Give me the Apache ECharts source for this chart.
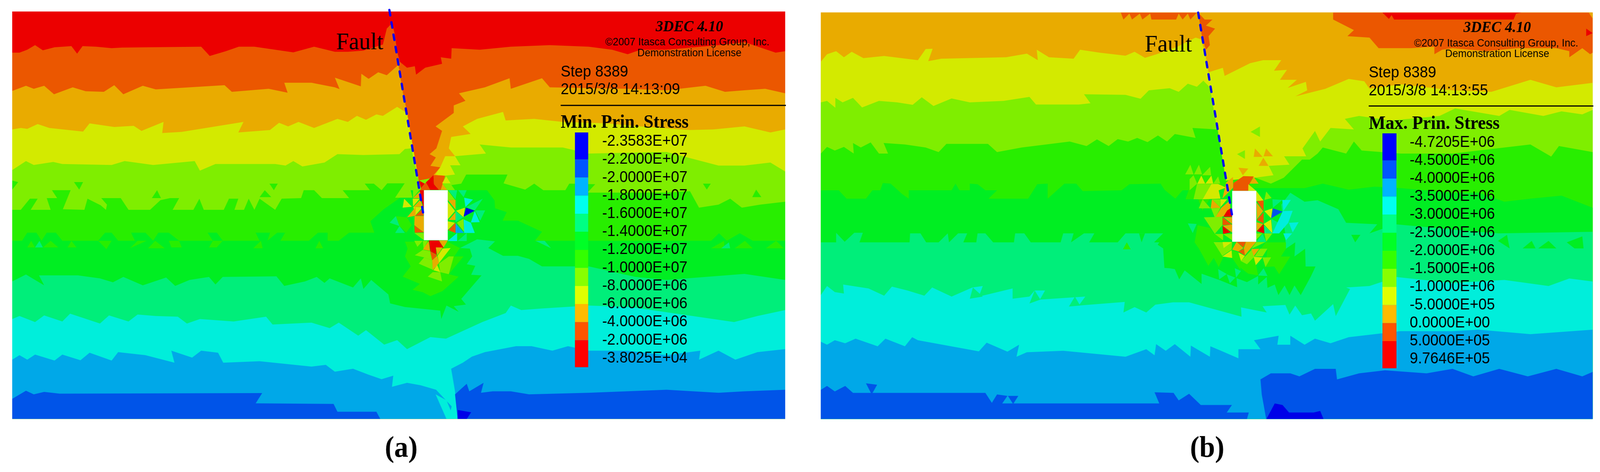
<!DOCTYPE html>
<html>
<head>
<meta charset="utf-8">
<title>Principal stress contours</title>
<script src="https://cdn.jsdelivr.net/npm/echarts@6/dist/echarts.min.js"></script>
<style>
  html, body { margin: 0; background: #fff; overflow: hidden; }
  #main { width: 4324px; height: 1208px; transform-origin: 0 0; }
</style>
</head>
<body>
<div id="main"></div>
<script>
// contour fill colours, index = band number, top of the model to the bottom
const bandColors = ['#ec0000', '#eb5700', '#e9ab00', '#d3ea00', '#7fee00', '#28ee00', '#00ee22', '#00ee7a', '#00eedb', '#00a8e8', '#0054e8', '#0000e8'];
const legendColors = ['#0000ff', '#0055ff', '#00b4ff', '#00ffee', '#00ff84', '#00ff26', '#33ff00', '#88ff00', '#e0ff00', '#ffbb00', '#ff5500', '#ff0000'];

const minLabels = ['-2.3583E+07', '-2.2000E+07', '-2.0000E+07', '-1.8000E+07', '-1.6000E+07', '-1.4000E+07', '-1.2000E+07', '-1.0000E+07', '-8.0000E+06', '-6.0000E+06', '-4.0000E+06', '-2.0000E+06', '-3.8025E+04'];
const maxLabels = ['-4.7205E+06', '-4.5000E+06', '-4.0000E+06', '-3.5000E+06', '-3.0000E+06', '-2.5000E+06', '-2.0000E+06', '-1.5000E+06', '-1.0000E+06', '-5.0000E+05', '0.0000E+00', '5.0000E+05', '9.7646E+05'];

// contour lines of the minimum principal stress, each one is the top edge of a band
const minBandLevels = [0, 1, 2, 3, 4, 5, 6, 7, 8, 9, 10];
const minContours = [
  [[47,38],[3025,38]],
  [[47,175],[75,175],[105,165],[135,150],[165,167],[210,157],[275,153],[297,178],[318,153],[370,155],[430,160],[470,158],[775,155],[808,186],[870,170],[920,155],[980,155],[1060,165],[1130,174],[1210,155],[1290,172],[1340,172],[1400,168],[1475,148],[1490,95],[1510,78],[1520,110],[1530,170],[1540,205],[1568,225],[1598,220],[1603,248],[1638,225],[1703,212],[1698,190],[1738,195],[1740,160],[1848,165],[1968,155],[2118,150],[2268,155],[2358,165],[2418,180],[2468,165],[2568,165],[2768,150],[2868,140],[2988,175],[3025,170]],
  [[47,302],[100,285],[130,295],[170,285],[208,313],[280,290],[330,303],[400,305],[440,283],[475,313],[550,285],[600,297],[865,283],[893,305],[1035,295],[1108,308],[1095,275],[1200,275],[1290,290],[1308,296],[1290,258],[1390,287],[1392,245],[1420,262],[1457,240],[1490,250],[1535,215],[1550,300],[1568,372],[1613,600],[1698,631],[1703,609],[1715,584],[1670,582],[1696,556],[1658,551],[1679,523],[1655,512],[1681,493],[1703,435],[1678,420],[1748,375],[1748,350],[1793,335],[1768,310],[1868,290],[1963,260],[1968,295],[2088,260],[2118,290],[2418,295],[2568,300],[2718,285],[2793,305],[2868,300],[2948,295],[3025,310]],
  [[47,430],[80,425],[105,428],[145,412],[190,425],[320,437],[345,410],[440,422],[515,418],[545,435],[630,405],[625,442],[700,438],[938,405],[918,440],[1040,432],[1075,408],[1110,420],[1150,405],[1210,425],[1300,395],[1340,405],[1375,385],[1410,398],[1450,380],[1475,385],[1530,355],[1568,375],[1613,600],[1715,584],[1677,580],[1696,556],[1715,519],[1753,519],[1729,493],[1738,455],[1813,445],[1783,420],[1838,395],[1938,372],[1948,400],[2058,395],[2168,405],[2338,410],[2468,420],[2658,432],[2748,430],[2868,420],[2968,440],[3025,430]],
  [[47,565],[100,535],[130,548],[205,538],[240,545],[430,548],[480,535],[590,548],[750,535],[770,567],[830,545],[1060,545],[1100,550],[1130,535],[1165,553],[1250,540],[1300,512],[1400,515],[1539,512],[1560,495],[1584,493],[1613,600],[1700,585],[1753,580],[1734,549],[1774,549],[1753,519],[1872,510],[1848,480],[1968,490],[2068,490],[2168,490],[2268,510],[2568,505],[2768,550],[2868,550],[2968,540],[3025,570]],
  [[47,697],[80,697],[115,660],[145,660],[118,697],[195,697],[180,658],[220,658],[200,632],[272,632],[242,695],[325,697],[337,660],[388,682],[408,697],[412,680],[390,658],[465,658],[495,697],[578,697],[618,665],[655,658],[690,658],[665,697],[745,697],[768,660],[785,697],[862,697],[882,660],[918,660],[903,697],[940,697],[958,660],[980,697],[1000,660],[1060,697],[1085,660],[1160,658],[1170,632],[1210,632],[1240,658],[1345,658],[1320,632],[1425,632],[1405,610],[1440,610],[1470,632],[1492,609],[1558,609],[1600,640],[1700,620],[1777,610],[1796,580],[1955,580],[1940,609],[2023,630],[2058,610],[2093,632],[2178,632],[2193,610],[2293,612],[2263,640],[2408,640],[2568,640],[2658,635],[2693,690],[2768,680],[2813,660],[2858,690],[2928,680],[3025,670]],
  [[47,800],[85,800],[105,773],[140,773],[160,800],[180,773],[215,773],[240,800],[378,800],[405,773],[430,773],[455,800],[520,800],[505,773],[560,773],[590,800],[610,773],[650,773],[690,800],[820,800],[800,773],[835,773],[858,800],[1000,800],[985,773],[1040,773],[1030,800],[1068,773],[1098,773],[1080,800],[1190,800],[1225,773],[1262,773],[1262,800],[1305,800],[1345,773],[1442,773],[1427,735],[1477,696],[1582,632],[1800,632],[1876,632],[1905,666],[1907,692],[1952,705],[1936,733],[1995,733],[2088,770],[2060,800],[2740,800],[2770,775],[2800,800],[2850,775],[2900,800],[3025,800]],
  [[47,935],[100,912],[125,925],[170,948],[150,915],[300,915],[385,925],[435,938],[475,920],[550,948],[640,922],[675,950],[730,930],[805,920],[830,945],[858,920],[1065,918],[1095,950],[1175,935],[1220,920],[1250,940],[1270,925],[1360,955],[1390,925],[1400,960],[1430,930],[1496,978],[1503,1008],[1560,1020],[1696,1032],[1700,1060],[1720,1015],[1767,1036],[1748,1017],[1795,1012],[1777,993],[1855,915],[1815,913],[1831,883],[1798,878],[1819,852],[1810,826],[1772,824],[1838,795],[1907,802],[1881,824],[1938,850],[1995,850],[2038,860],[2088,885],[2268,885],[2448,920],[2568,930],[2718,920],[2868,910],[3025,930]],
  [[47,1060],[75,1050],[135,1070],[170,1048],[240,1068],[270,1042],[385,1075],[420,1048],[495,1068],[530,1045],[600,1050],[685,1052],[720,1075],[770,1060],[900,1068],[1025,1052],[1050,1078],[1200,1072],[1270,1090],[1305,1072],[1380,1115],[1410,1097],[1480,1145],[1530,1130],[1568,1160],[1658,1120],[1718,1125],[1858,1070],[1948,1040],[1968,1015],[2008,1030],[2088,1025],[2268,1015],[2428,1020],[2668,1050],[2828,1070],[2918,1050],[3025,1030]],
  [[47,1195],[75,1180],[105,1195],[135,1178],[210,1198],[240,1178],[310,1197],[345,1172],[430,1198],[455,1170],[560,1180],[672,1205],[660,1165],[740,1188],[775,1165],[840,1172],[860,1205],[1000,1200],[1200,1218],[1255,1212],[1290,1235],[1360,1225],[1420,1245],[1470,1260],[1515,1248],[1510,1285],[1568,1272],[1620,1280],[1680,1295],[1740,1350],[1728,1392],[1763,1392],[1753,1300],[1738,1225],[1783,1205],[1818,1185],[1868,1170],[1988,1150],[2048,1150],[2128,1165],[2188,1150],[2268,1165],[2418,1165],[2568,1180],[2698,1165],[2693,1195],[2768,1165],[2833,1195],[2918,1170],[3025,1160]],
  [[47,1325],[100,1298],[130,1310],[170,1302],[230,1308],[1010,1306],[985,1340],[1285,1342],[1300,1368],[1450,1368],[1465,1392],[1763,1392],[1753,1310],[1798,1275],[1808,1300],[1863,1272],[1853,1305],[1898,1300],[1968,1300],[2038,1310],[2268,1305],[2568,1295],[2768,1305],[2868,1300],[3025,1295]]
];

// single mesh elements and small patches, [band, outline]
const minPatches = [
  [5,[[47,600],[70,605],[47,630]]],[5,[[285,605],[320,605],[305,630]]],[5,[[1038,610],[1070,610],[1055,632]]],[5,[[585,658],[605,632],[620,658]]],[5,[[1000,655],[1020,632],[1045,655]]],
  [5,[[2898,655],[2913,630],[2933,655]]],[5,[[2708,610],[2738,610],[2723,630]]],
  [5,[[105,822],[120,800],[135,822]]],[7,[[135,822],[152,800],[165,822]]],[5,[[165,822],[195,800],[225,822]]],[5,[[260,822],[275,800],[295,822]]],[5,[[378,800],[430,800],[410,828]]],[5,[[500,825],[530,800],[565,800]]],[5,[[570,825],[598,800],[635,825]]],[5,[[650,800],[690,800],[700,822],[660,822]]],[5,[[805,822],[820,800],[858,800],[835,822]]],[5,[[975,825],[1005,800],[1012,825]]],[5,[[1215,825],[1230,800],[1245,825]]],
  [5,[[2738,825],[2790,800],[2790,825]]],[5,[[2830,825],[2870,800],[2900,825]]],[5,[[2950,825],[2990,800],[3020,825]]],[7,[[2063,800],[2098,800],[2123,825]]],[7,[[2778,825],[2808,805],[2813,825]]],
  [1,[[1490,95],[1510,78],[1518,110]]],
  // halo under the opening
  [5,[[1560,803],[1724,803],[1772,824],[1750,852],[1786,852],[1729,911],[1767,919],[1705,967],[1658,984],[1629,971],[1589,963],[1617,943],[1551,919],[1582,885],[1560,852],[1570,826]]],
  [5,[[1525,718],[1568,722],[1586,748],[1565,773],[1539,751]]],
  [4,[[1522,657],[1558,610],[1613,610],[1615,632],[1582,632],[1589,657]]],
  [7,[[1501,740],[1525,718],[1539,751]]],[7,[[1522,774],[1539,751],[1560,774]]],
  [0,[[1613,599],[1636,610],[1622,625]]],[0,[[1641,606],[1670,582],[1672,612],[1691,631],[1657,631]]],[1,[[1670,582],[1715,584],[1698,631],[1691,631],[1672,612]]],[1,[[1622,625],[1641,606],[1657,631],[1620,632]]],[2,[[1698,631],[1705,611],[1723,631]]],[3,[[1703,609],[1719,586],[1736,609]]],
  [4,[[1705,611],[1736,611],[1753,632],[1723,632]]],
  [4,[[1591,632],[1615,632],[1591,658]]],[2,[[1591,658],[1617,636],[1622,658]]],[3,[[1590,660],[1617,660],[1591,686]]],[2,[[1592,688],[1619,664],[1629,687]]],[3,[[1592,688],[1628,688],[1601,715]]],[1,[[1600,717],[1627,694],[1633,717]]],[2,[[1568,722],[1601,688],[1601,717]]],[2,[[1597,718],[1633,718],[1633,772],[1596,748]]],[1,[[1596,749],[1633,772],[1598,773]]],[3,[[1551,690],[1557,660],[1587,687]]],[4,[[1596,774],[1633,774],[1633,798]]],
  [0,[[1617,632],[1633,632],[1633,694],[1625,670]]],
  [4,[[1725,632],[1753,664],[1725,664]]],[7,[[1727,632],[1761,632],[1755,662]]],[7,[[1765,632],[1798,632],[1786,655]]],[8,[[1788,657],[1822,663],[1793,688]]],[7,[[1796,688],[1860,660],[1829,699]]],[2,[[1725,664],[1755,664],[1755,696]]],[3,[[1725,670],[1753,701],[1725,729]]],[2,[[1755,705],[1755,731],[1729,731]]],[3,[[1725,735],[1753,740],[1725,764]]],[1,[[1727,765],[1755,740],[1755,774]]],[9,[[1755,742],[1788,774],[1755,774]]],[3,[[1757,700],[1791,690],[1786,722]]],[7,[[1755,701],[1784,722],[1755,738]]],[8,[[1786,729],[1814,740],[1829,774],[1788,774]]],[4,[[1760,740],[1785,727],[1788,770]]],[8,[[1829,701],[1848,738],[1814,739]]],[7,[[1831,699],[1869,699],[1850,733]]],[11,[[1795,690],[1829,700],[1786,720]]],[8,[[1724,801],[1761,774],[1761,801]]],[7,[[1763,801],[1798,774],[1798,801]]],
  [4,[[1598,848],[1629,830],[1658,835],[1665,865],[1634,855]]],[4,[[1613,876],[1634,855],[1665,865],[1667,896]]],[4,[[1691,876],[1729,852],[1748,852],[1729,911],[1696,904]]],[4,[[1648,919],[1667,904],[1696,904],[1703,935]]],[4,[[1596,800],[1629,800],[1608,820]]],[4,[[1629,800],[1648,800],[1632,829]]],
  [0,[[1652,799],[1691,799],[1709,824],[1679,822],[1682,846],[1658,835]]],[2,[[1691,799],[1725,799],[1709,822]]],[2,[[1629,829],[1651,801],[1656,833]]],[2,[[1679,822],[1705,822],[1685,848]]],[1,[[1657,835],[1684,848],[1665,865]]],[2,[[1665,865],[1684,850],[1691,874],[1667,898]]],[3,[[1686,850],[1705,826],[1736,824],[1691,874]]],[3,[[1670,898],[1684,880],[1696,904]]],
  [8,[[1678,1310],[1720,1330],[1750,1392],[1720,1392]]],[11,[[1763,1362],[1815,1370],[1798,1392],[1763,1392]]]
];

// same again for the maximum principal stress, the model top sits in band 2
const maxBandLevels = [2, 3, 4, 5, 6, 7, 8, 9, 10];
const maxContours = [
  [[26,41],[3000,41]],
  [[26,205],[50,180],[85,170],[115,190],[145,172],[190,193],[270,186],[400,200],[430,163],[457,162],[440,203],[490,195],[740,190],[820,178],[862,200],[858,165],[905,190],[1000,195],[1025,165],[1100,175],[1200,185],[1235,172],[1275,192],[1320,180],[1400,155],[1470,125],[1490,130],[1505,170],[1520,240],[1575,225],[1582,252],[1680,210],[1730,200],[1800,200],[1772,235],[1822,232],[1795,265],[1860,265],[1825,292],[1895,272],[1900,300],[1855,320],[1970,295],[2060,262],[2120,270],[2140,295],[2260,280],[2460,300],[2610,305],[2760,265],[2860,290],[3000,275]],
  [[26,340],[50,335],[82,358],[82,325],[110,340],[150,325],[185,357],[250,335],[320,340],[380,348],[415,323],[460,352],[530,327],[600,340],[730,335],[830,322],[855,347],[1020,347],[1065,343],[1040,313],[1200,315],[1258,328],[1290,300],[1370,293],[1405,305],[1440,278],[1475,288],[1500,268],[1525,290],[1587,600],[1700,590],[1770,582],[1752,551],[1832,547],[1811,519],[1896,519],[1882,493],[1930,435],[1950,470],[1990,425],[2080,430],[2045,395],[2100,385],[2220,400],[2290,395],[2410,385],[2470,360],[2640,385],[2680,365],[2810,385],[2880,370],[2960,380],[3000,365]],
  [[26,510],[50,488],[80,500],[115,488],[153,510],[150,475],[180,490],[218,473],[250,510],[285,510],[268,475],[350,480],[430,490],[480,505],[510,478],[670,478],[705,505],[800,490],[985,470],[1050,485],[1090,463],[1135,485],[1170,462],[1210,470],[1245,458],[1285,472],[1325,450],[1360,470],[1390,445],[1470,458],[1458,425],[1555,430],[1587,600],[1700,590],[1760,610],[1810,590],[1880,530],[1910,530],[1940,510],[1960,490],[2050,510],[2080,470],[2110,500],[2260,510],[2460,510],[2660,490],[2760,480],[2840,520],[2870,485],[3000,505]],
  [[26,632],[95,632],[125,660],[200,660],[225,632],[255,632],[265,608],[295,610],[340,645],[365,660],[365,632],[530,632],[545,610],[560,632],[600,632],[600,610],[630,612],[660,632],[705,632],[672,660],[825,660],[860,612],[900,610],[900,660],[965,610],[1010,610],[1060,660],[1030,635],[1185,632],[1215,612],[1335,610],[1350,630],[1392,660],[1420,632],[1443,632],[1431,662],[1480,662],[1496,700],[1540,640],[1600,620],[1700,625],[1810,625],[1890,625],[1960,610],[2060,630],[2160,620],[2260,625],[2460,640],[2560,640],[2660,670],[2760,660],[2880,650],[3000,690]],
  [[26,805],[85,805],[85,773],[118,803],[155,773],[188,773],[175,805],[368,805],[370,775],[410,775],[432,805],[480,805],[515,775],[520,805],[555,775],[590,775],[575,805],[625,805],[630,775],[660,775],[690,805],[770,805],[775,775],[810,775],[835,805],[950,805],[960,775],[1000,775],[990,805],[1040,775],[1080,775],[1060,805],[1170,805],[1200,775],[1345,775],[1310,805],[1345,825],[1350,890],[1369,891],[1390,894],[1407,928],[1428,898],[1493,943],[1493,909],[1561,930],[1630,954],[1628,924],[1668,937],[1711,917],[1711,945],[1744,920],[1747,956],[1775,945],[1789,980],[1813,948],[1832,980],[1851,948],[1875,980],[1915,917],[1932,885],[1894,885],[1892,826],[1851,852],[1854,805],[1818,826],[1815,774],[1800,680],[1835,640],[1890,670],[1940,665],[2020,695],[2050,740],[2170,745],[2140,775],[2240,745],[2560,770],[2640,775],[3000,770]],
  [[26,980],[50,950],[80,970],[115,975],[112,945],[210,958],[270,982],[300,952],[360,965],[425,982],[455,955],[530,985],[610,955],[650,950],[635,985],[765,958],[765,992],[830,985],[850,965],[890,965],[870,995],[1045,985],[1020,1015],[1197,1003],[1192,1038],[1235,1020],[1280,1038],[1315,1012],[1383,1004],[1445,1004],[1647,1052],[1645,1021],[1744,1038],[1728,1017],[1816,1013],[1832,1045],[1854,1015],[1880,1047],[1915,1041],[1930,1065],[2000,1010],[2010,1050],[2065,960],[2050,955],[2140,950],[2244,920],[2460,940],[2660,930],[2830,950],[2910,925],[3000,935]],
  [[26,1135],[50,1145],[80,1130],[120,1140],[160,1125],[245,1150],[275,1125],[350,1150],[378,1120],[400,1130],[635,1167],[665,1138],[745,1168],[790,1145],[780,1185],[820,1170],[960,1165],[1200,1185],[1280,1160],[1312,1180],[1318,1143],[1355,1165],[1390,1143],[1450,1185],[1452,1148],[1525,1185],[1527,1150],[1568,1165],[1635,1190],[1635,1160],[1720,1160],[1695,1130],[1790,1115],[1785,1145],[1835,1145],[1835,1115],[1890,1145],[1930,1125],[1990,1140],[2060,1120],[2160,1110],[2260,1100],[2460,1100],[2560,1095],[2760,1110],[3000,1095]],
  [[26,1295],[50,1282],[80,1300],[120,1282],[150,1305],[660,1305],[685,1338],[705,1310],[745,1315],[725,1340],[1330,1340],[1312,1303],[1385,1305],[1405,1330],[1445,1308],[1490,1345],[1610,1345],[1590,1370],[1675,1370],[1668,1392],[1742,1392],[1725,1310],[1720,1260],[1760,1240],[1835,1240],[1870,1250],[1930,1225],[2010,1225],[2015,1260],[2100,1240],[2200,1230],[2360,1240],[2460,1225],[2540,1250],[2640,1225],[2750,1250],[2860,1225],[2960,1250],[3000,1235]]
];

const maxPatches = [
  [1,[[1182,42],[1192,65],[1215,45],[1225,65],[1255,45],[1265,65],[1295,45],[1300,65],[1395,65],[1405,45],[1420,65],[1440,45],[1450,65],[1475,42]]],
  [1,[[1480,42],[1505,65],[1535,65],[1510,85],[1545,95],[1520,120],[1525,150],[1510,165],[1495,125]]],
  [1,[[2000,42],[2000,65],[2080,100],[2055,120],[2140,125],[2175,160],[2300,160],[2390,155],[2390,180],[2420,165],[2460,160],[2590,170],[2710,160],[2860,160],[2910,170],[2910,190],[2960,160],[2990,180],[3000,175],[3000,42]]],
  [0,[[2190,42],[2215,63],[2225,50],[2235,65],[2695,65],[2705,45],[2725,42]]],
  [0,[[2975,120],[3000,110],[2975,95]]],
  [2,[[2985,42],[3000,42],[3000,62]]],
  [10,[[200,1273],[243,1278],[222,1310]]],[10,[[747,1315],[787,1315],[767,1342]]],
  [7,[[600,992],[612,955],[650,985]]],[7,[[830,1008],[850,965],[872,995]]],[7,[[982,1018],[1005,985],[1025,1015]]],
  [6,[[2635,800],[2670,780],[2680,825]]],[6,[[2730,825],[2765,800],[2780,825]]],[6,[[2790,825],[2830,800],[2860,825]]],[6,[[2900,805],[2960,785],[2965,825],[2930,825]]],
  [7,[[2060,825],[2080,805],[2100,825]]],[6,[[2070,780],[2105,780],[2085,805]]],[7,[[2090,950],[2120,925],[2140,950]]],
  [5,[[1190,828],[1205,805],[1220,828]]],[6,[[1252,775],[1275,775],[1262,805]]],[7,[[1300,805],[1330,805],[1315,825]]],
  [7,[[1440,742],[1474,744],[1459,774]]],
  // mesh around the opening
  [5,[[1466,805],[1478,748],[1526,757],[1542,777],[1573,779],[1573,800],[1538,803],[1578,852],[1559,887],[1540,857],[1519,883],[1483,826]]],
  [5,[[1611,831],[1635,839],[1645,867],[1668,878],[1697,852],[1704,883],[1711,915],[1673,909],[1642,889],[1645,900],[1611,857]]],
  [5,[[1740,805],[1818,805],[1818,826],[1799,852],[1835,852],[1792,911],[1773,885],[1737,887],[1747,826],[1721,826]]],
  [7,[[1557,894],[1590,910],[1561,928]]],[7,[[1590,911],[1623,922],[1602,941]]],[7,[[1621,891],[1645,900],[1626,922]]],[7,[[1711,915],[1732,891],[1747,917]]],
  [4,[[1430,579],[1450,547],[1462,579]]],[4,[[1464,579],[1483,547],[1495,579]]],[4,[[1495,582],[1526,554],[1530,582]]],[4,[[1447,632],[1447,595],[1462,582],[1476,610]]],
  [4,[[1462,662],[1476,610],[1531,611],[1497,662]]],[3,[[1497,662],[1531,611],[1557,611],[1587,623],[1559,632],[1566,660]]],[3,[[1477,610],[1492,583],[1507,610]]],[3,[[1508,610],[1531,583],[1538,610]]],[4,[[1538,610],[1557,586],[1565,610]]],
  [4,[[1482,692],[1497,662],[1528,692]]],[4,[[1533,662],[1566,662],[1566,690]]],[2,[[1528,692],[1533,662],[1566,690]]],[3,[[1566,662],[1592,662],[1566,688]]],
  [2,[[1588,606],[1614,588],[1615,623],[1573,660]]],[1,[[1614,634],[1616,608],[1654,585],[1694,586],[1678,610],[1673,634]]],[2,[[1678,610],[1694,588],[1713,610]]],[3,[[1673,612],[1704,634],[1673,634]]],
  [2,[[1542,727],[1569,690],[1602,666],[1604,691],[1578,718]]],[0,[[1577,720],[1592,699],[1606,691],[1611,720]]],[4,[[1530,692],[1566,690],[1545,725]]],[4,[[1502,722],[1573,720],[1573,748],[1544,777]]],
  [2,[[1578,722],[1611,722],[1611,744]]],[1,[[1574,722],[1609,746],[1574,748]]],[2,[[1574,750],[1611,746],[1611,772]]],[0,[[1574,750],[1606,772],[1576,777]]],[4,[[1544,777],[1576,777],[1576,798]]],[4,[[1576,777],[1611,777],[1611,798]]],
  [4,[[1539,804],[1611,804],[1609,829],[1573,850]]],[3,[[1574,804],[1610,804],[1578,824]]],[3,[[1573,852],[1609,831],[1611,857]]],
  [2,[[1611,829],[1628,803],[1654,824],[1635,835]]],[1,[[1629,803],[1664,803],[1654,822]]],[1,[[1635,835],[1656,826],[1660,849]]],[2,[[1664,803],[1704,803],[1660,848],[1656,824]]],[3,[[1635,839],[1660,850],[1645,867]]],[4,[[1644,867],[1687,829],[1697,852],[1668,878]]],
  [2,[[1685,827],[1716,826],[1694,851]]],[4,[[1697,852],[1718,826],[1747,826],[1728,852]]],[4,[[1685,826],[1740,804],[1704,804]]],[3,[[1694,853],[1728,855],[1702,881]]],[4,[[1728,855],[1761,855],[1739,887]]],
  [7,[[1704,803],[1728,777],[1742,804]]],[4,[[1704,796],[1728,775],[1704,775]]],[4,[[1735,775],[1766,775],[1742,803]]],
  [6,[[1732,666],[1768,662],[1768,692],[1735,701]]],[4,[[1735,664],[1742,636],[1763,658]]],
  [3,[[1704,634],[1732,666],[1704,668]]],[1,[[1706,668],[1732,666],[1732,701]]],[2,[[1705,673],[1730,701],[1706,729]]],[1,[[1706,731],[1732,705],[1732,742]]],[2,[[1705,738],[1730,744],[1705,768]]],[0,[[1706,768],[1732,744],[1735,775]]],
  [3,[[1735,701],[1766,692],[1761,725]]],[3,[[1732,744],[1761,729],[1766,775]]],[7,[[1735,749],[1766,775],[1735,775]]],[7,[[1763,727],[1794,742],[1766,775]]],
  [10,[[1768,692],[1806,703],[1761,725]]],[7,[[1766,662],[1804,664],[1768,690]]],[8,[[1804,664],[1837,664],[1808,701]]],[8,[[1806,701],[1844,700],[1827,740],[1792,775],[1766,775]]],[8,[[1830,740],[1867,738],[1844,772]]],[8,[[1808,775],[1842,775],[1818,798]]],
  [2,[[1694,521],[1699,493],[1728,521]]],[2,[[1732,519],[1742,493],[1768,519]]],[2,[[1713,551],[1731,524],[1751,551]]],[2,[[1635,557],[1673,560],[1652,582]]],[4,[[1630,512],[1660,499],[1660,528]]],[4,[[1682,438],[1718,420],[1718,455]]],
  [11,[[1743,1392],[1775,1340],[1805,1345],[1830,1370],[1925,1370],[1950,1365],[1963,1392]]]
];

const minFault = [[1500,33],[1631,712]];
const maxFault = [[1480,42],[1610,712]];

// layout of the two panels, all in the axis units of each panel
const panels = [
  {
    grid: { left: 33, top: 29.3, width: 2089, height: 1043 },
    x: [47, 3025], y: [38, 1392], hole: [1633, 632, 1725, 798],
    levels: minBandLevels, contours: minContours, patches: minPatches, fault: minFault, labels: minLabels,
    title: 'Min. Prin. Stress', step: 'Step 8389', time: '2015/3/8 14:13:09',
    textX: 2160, ruleY: 350, ruleEnd: 3033, logoX: 2656, copyX: 2648,
    barX: 2215, barW: 51, labelX: 2320, faultX: 1386, faultY: 143, dy: 0
  },
  {
    grid: { left: 2218.2, top: 31.6, width: 2086, height: 1041 },
    x: [26, 3000], y: [41, 1392], hole: [1611, 634, 1704, 803],
    levels: maxBandLevels, contours: maxContours, patches: maxPatches, fault: maxFault, labels: maxLabels,
    title: 'Max. Prin. Stress', step: 'Step 8389', time: '2015/3/8 14:13:55',
    textX: 2137, ruleY: 352, ruleEnd: 3006, logoX: 2632, copyX: 2628,
    barX: 2190, barW: 54, labelX: 2295, faultX: 1365, faultY: 150, dy: 3
  }
];

function fillSeries(p, i) {
  const edge = (line) => line.concat([[p.x[1], p.y[1]], [p.x[0], p.y[1]]]);
  const shapes = p.contours.map((c, k) => ({ color: bandColors[p.levels[k]], pts: edge(c) }))
    .concat(p.patches.map(q => ({ color: bandColors[q[0]], pts: q[1] })));
  shapes.push({
    color: '#ffffff',
    pts: [[p.hole[0], p.hole[1]], [p.hole[2], p.hole[1]], [p.hole[2], p.hole[3]], [p.hole[0], p.hole[3]]]
  });
  return {
    type: 'custom', xAxisIndex: i, yAxisIndex: i, silent: true, clip: true, z: 1,
    data: shapes.map((s, k) => [s.pts[0][0], s.pts[0][1], k]),
    renderItem: (params, api) => {
      const s = shapes[api.value(2)];
      return {
        type: 'polygon',
        shape: { points: s.pts.map(v => api.coord(v)) },
        style: { fill: s.color, stroke: null }
      };
    }
  };
}

function legendSeries(p, i) {
  // top cell and bottom cell are taller than the rest
  const top = 440 + p.dy;
  const cell = (k) => {
    if (k === 0) return [top, top + 90];
    if (k === legendColors.length - 1) return [top + 90 + (k - 1) * 60, top + 90 + (k - 1) * 60 + 90];
    return [top + 90 + (k - 1) * 60, top + 90 + k * 60];
  };
  return {
    type: 'custom', xAxisIndex: i, yAxisIndex: i, silent: true, z: 3,
    data: legendColors.map((c, k) => [p.barX, top, k]),
    renderItem: (params, api) => {
      const k = api.value(2);
      const r = cell(k);
      const a = api.coord([p.barX, r[0]]);
      const b = api.coord([p.barX + p.barW, r[1]]);
      return {
        type: 'rect',
        shape: { x: a[0], y: a[1], width: b[0] - a[0], height: b[1] - a[1] },
        style: { fill: legendColors[k] }
      };
    }
  };
}

function textSeries(p, i) {
  const sans = '"Liberation Sans"', serif = '"Liberation Serif"';
  const d = p.dy;
  const items = [
    { t: 'Fault', x: p.faultX, y: p.faultY, font: `62px ${serif}`, align: 'center' },
    { t: '3DEC 4.10', x: p.logoX, y: 90 + d, font: `italic bold 40px ${serif}`, align: 'center' },
    { t: '©2007 Itasca Consulting Group, Inc.', x: p.copyX, y: 141 + d, font: `27.5px ${sans}`, align: 'center' },
    { t: 'Demonstration License', x: p.logoX, y: 177 + d, font: `27.5px ${sans}`, align: 'center' },
    { t: p.step, x: p.textX, y: 240 + d, font: `40px ${sans}`, align: 'left' },
    { t: p.time, x: p.textX, y: 299 + d, font: `40px ${sans}`, align: 'left' },
    { t: p.title, x: p.textX, y: 409 + d, font: `bold 48px ${serif}`, align: 'left' }
  ].concat(p.labels.map((t, k) => ({
    t, x: p.labelX, y: 470 + d + k * 60, font: `40px ${sans}`, align: 'left'
  })));
  return {
    type: 'custom', xAxisIndex: i, yAxisIndex: i, silent: true, z: 4, clip: false,
    data: items.map((o, k) => [o.x, o.y, k]),
    renderItem: (params, api) => {
      const o = items[api.value(2)];
      const c = api.coord([o.x, o.y]);
      return {
        type: 'text',
        style: { text: o.t, x: c[0], y: c[1], fill: '#000', font: o.font, align: o.align, verticalAlign: 'middle' }
      };
    }
  };
}

const series = [];
panels.forEach((p, i) => {
  series.push(fillSeries(p, i));
  series.push(legendSeries(p, i));
  series.push(textSeries(p, i));
  series.push({
    type: 'line', xAxisIndex: i, yAxisIndex: i, data: p.fault, symbol: 'none', silent: true, z: 5, clip: false,
    lineStyle: { color: '#0000ff', width: 6, type: [14, 18], cap: 'round' }
  });
  series.push({
    type: 'line', xAxisIndex: i, yAxisIndex: i, data: [[p.textX, p.ruleY], [p.ruleEnd, p.ruleY]], symbol: 'none', silent: true, z: 5, clip: false,
    lineStyle: { color: '#000', width: 3 }
  });
});

const caption = (letter, left) => ({
  text: `{p|(}{b|${letter}}{p|)}`, left, top: 1106,
  textStyle: {
    rich: {
      p: { fontFamily: 'Liberation Serif', fontSize: 76, color: '#000' },
      b: { fontFamily: 'Liberation Serif', fontSize: 76, fontWeight: 'bold', color: '#000' }
    }
  }
});

// the browser may cap the window below 4324 wide, squeeze the page so nothing gets cut off
const mainEl = document.getElementById('main');
mainEl.style.transform = `scaleX(${Math.min(1, window.innerWidth / 4324)})`;

const chart = echarts.init(mainEl, null, { renderer: 'canvas' });
chart.setOption({
  animation: false,
  backgroundColor: '#fff',
  title: [caption('a', 1035), caption('b', 3211)],
  grid: panels.map(p => Object.assign({ containLabel: false }, p.grid)),
  xAxis: panels.map((p, i) => ({ type: 'value', gridIndex: i, min: p.x[0], max: p.x[1], show: false })),
  yAxis: panels.map((p, i) => ({ type: 'value', gridIndex: i, min: p.y[0], max: p.y[1], inverse: true, show: false })),
  series
});
</script>
</body>
</html>
